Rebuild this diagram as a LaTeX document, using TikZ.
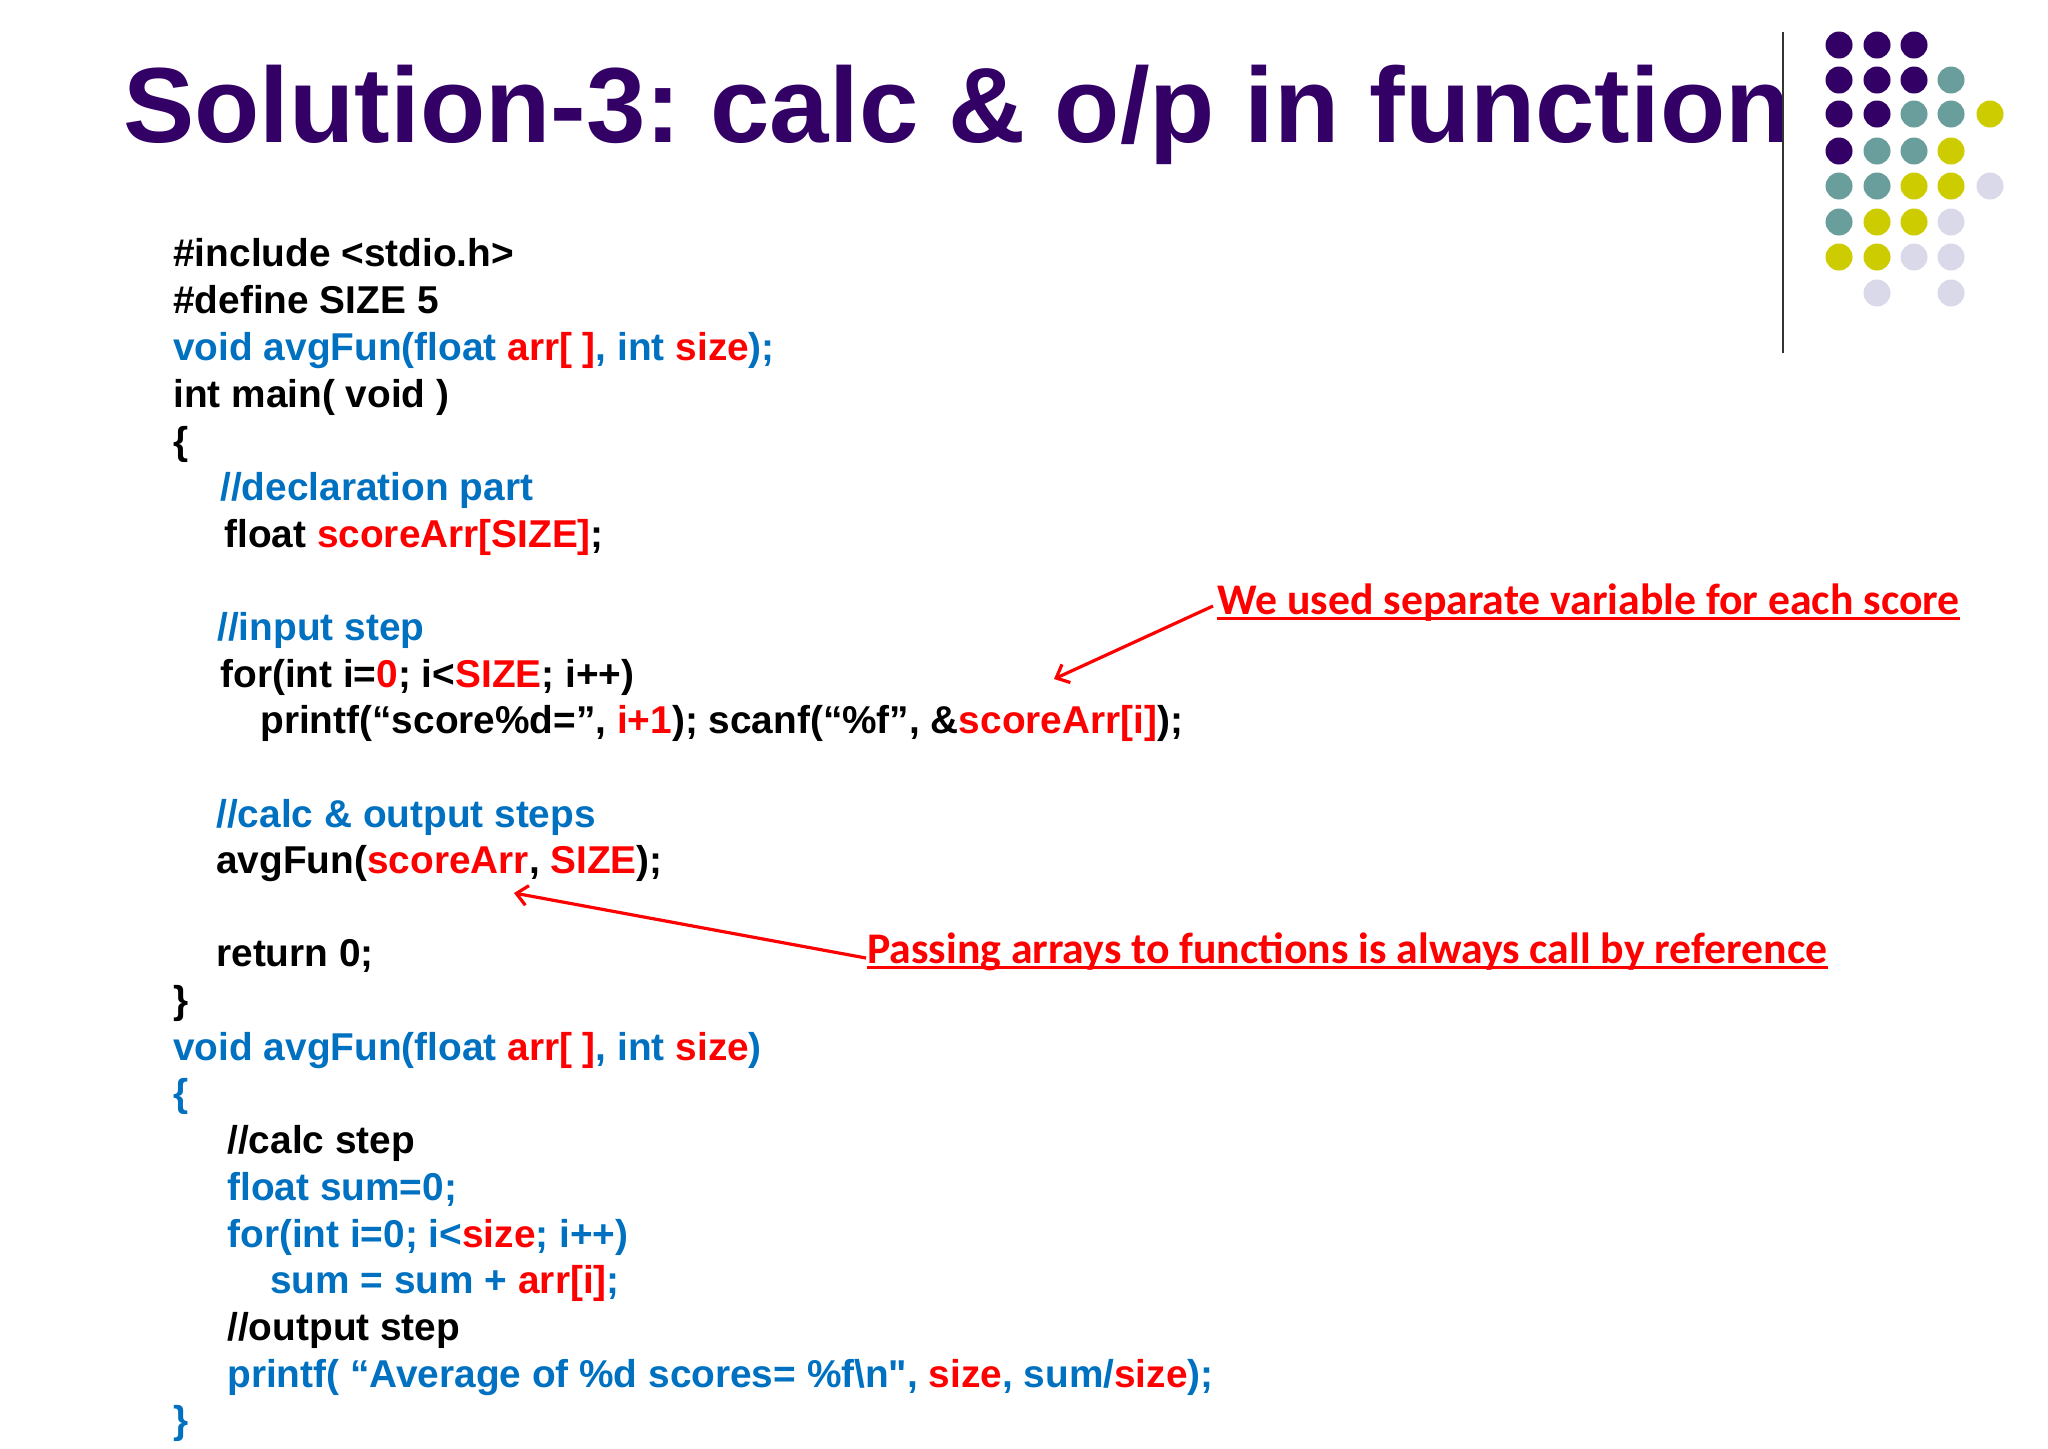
\documentclass[tikz,border=0pt]{standalone}
\usepackage{fontspec}
\usetikzlibrary{arrows.meta}
\setmainfont{Liberation Sans}
\newfontfamily\notefont{Carlito}
\newfontfamily\plainfont{Liberation Sans}
\definecolor{slidepurple}{HTML}{330066}
\definecolor{dotteal}{HTML}{6A9E9C}
\definecolor{dotyellow}{HTML}{CCCC00}
\definecolor{dotlav}{HTML}{D9D9EA}
\definecolor{codeblue}{HTML}{0070C0}
\newcommand{\rd}[1]{\textcolor{red}{#1}}
\newcommand{\bl}[1]{\textcolor{codeblue}{#1}}
\tikzstyle{title} = [anchor=base west,inner sep=0pt,text=slidepurple,font=\bfseries\fontsize{53.4}{60}\selectfont]
\tikzstyle{code} = [anchor=base west,inner sep=0pt,font=\bfseries\fontsize{19.4}{23}\selectfont]
\tikzstyle{note} = [anchor=base west,inner sep=0pt,text=red,font=\notefont\bfseries\fontsize{21.87}{25}\selectfont]
\tikzstyle{noteline} = [draw=red,line width=1.5pt]
\tikzstyle{notearrow} = [-{Straight Barb[length=5.5pt,width=10pt]},draw=red,line width=1.6pt]
\tikzstyle{dot} = [circle,minimum size=13.5pt,inner sep=0pt]
\begin{document}
\begin{tikzpicture}[x=0.5pt,y=-0.5pt]
      \useasboundingbox (0,0) rectangle (2048,1448);
      %% title
      \node[title] (head) at (123,142) {Solution-3:\hspace{-5pt} calc \& o/p in function};
      \draw[black!80,line width=1pt] (1783,32) coordinate (rulea) -- (1783,353) coordinate (ruleb);
      %% dots
      \foreach \x/\y/\color in {
        1839/45/slidepurple, 1877/45/slidepurple, 1914/45/slidepurple,
        1839/80/slidepurple, 1877/80/slidepurple, 1914/80/slidepurple, 1951/80/dotteal,
        1839/114/slidepurple, 1877/114/slidepurple, 1914/114/dotteal, 1951/114/dotteal, 1990/114/dotyellow,
        1839/151/slidepurple, 1877/151/dotteal, 1914/151/dotteal, 1951/151/dotyellow,
        1839/186/dotteal, 1877/186/dotteal, 1914/186/dotyellow, 1951/186/dotyellow, 1990/186/dotlav,
        1839/222/dotteal, 1877/222/dotyellow, 1914/222/dotyellow, 1951/222/dotlav,
        1839/257/dotyellow, 1877/257/dotyellow, 1914/257/dotlav, 1951/257/dotlav,
        1877/293/dotlav, 1951/293/dotlav}
      {
        \node[dot, fill=\color] (dot\x-\y) at (\x,\y) {};
      }
      %% code lines
      \foreach \linename/\x/\y/\codetext in {
        inc/173/266/{\#include <stdio.h>},
        def/173/313/{\#define SIZE 5},
        proto/173/360/{\bl{void avgFun(float }\rd{arr[ ]}\bl{, int }\rd{size}\bl{);}},
        mainf/173/407/{int main( void )},
        opena/173/454/{\{},
        decl/220/500/{\bl{//declaration part}},
        flt/224/547/{float \rd{scoreArr[SIZE]};},
        inp/217/640/{\bl{//input step}},
        loopa/220/687/{for(int i=\rd{0}; i<\rd{SIZE}; i++)},
        scan/260/733/{printf(“score\%d=”, \rd{i+1}); scanf(“\%f”, \&\rd{scoreArr[i]});},
        calc/216/827/{\bl{//calc \& output steps}},
        call/216/873/{avgFun(\rd{scoreArr}, \rd{SIZE});},
        ret/216/966/{return 0;},
        closea/173/1013/{\}},
        defn/173/1060/{\bl{void avgFun(float }\rd{arr[ ]}\bl{, int }\rd{size}\bl{)}},
        openb/173/1106/{\bl{\{}},
        cmta/227/1153/{//calc step},
        sumz/227/1200/{\bl{float sum=0;}},
        loopb/227/1247/{\bl{for(int i=0; i<}\rd{size}\bl{; i++)}},
        sumb/270/1293/{\bl{sum = sum + }\rd{arr[i]}\bl{;}},
        cmtb/227/1340/{//output step},
        prnt/227/1387/{\bl{printf( “Average of \%d scores= \%f\textbackslash n{\plainfont\bfseries "},} \rd{size}\bl{, sum/}\rd{size}\bl{);}},
        closeb/173/1433/{\bl{\}}}}
      {
        \node[code] (\linename) at (\x,\y) {\codetext};
      }
      %% notes
      \node[note] (notea) at (1217,614) {We used separate variable for each score};
      \node[note] (noteb) at (867,963) {Passing arrays to functions is always call by reference};
      \draw[noteline] ([yshift=-2pt]notea.base west) -- ([yshift=-2pt]notea.base east);
      \draw[noteline] ([yshift=-2pt]noteb.base west) -- ([yshift=-2pt]noteb.base east);
      %% arrows
      \coordinate (tipa) at (1054,679);
      \coordinate (tipb) at (514,893);
      \draw[notearrow] (notea.base west) ++(-4,-8) -- (tipa);
      \draw[notearrow] (noteb.base west) ++(-1,-5) -- (tipb);
\end{tikzpicture}
\end{document}
